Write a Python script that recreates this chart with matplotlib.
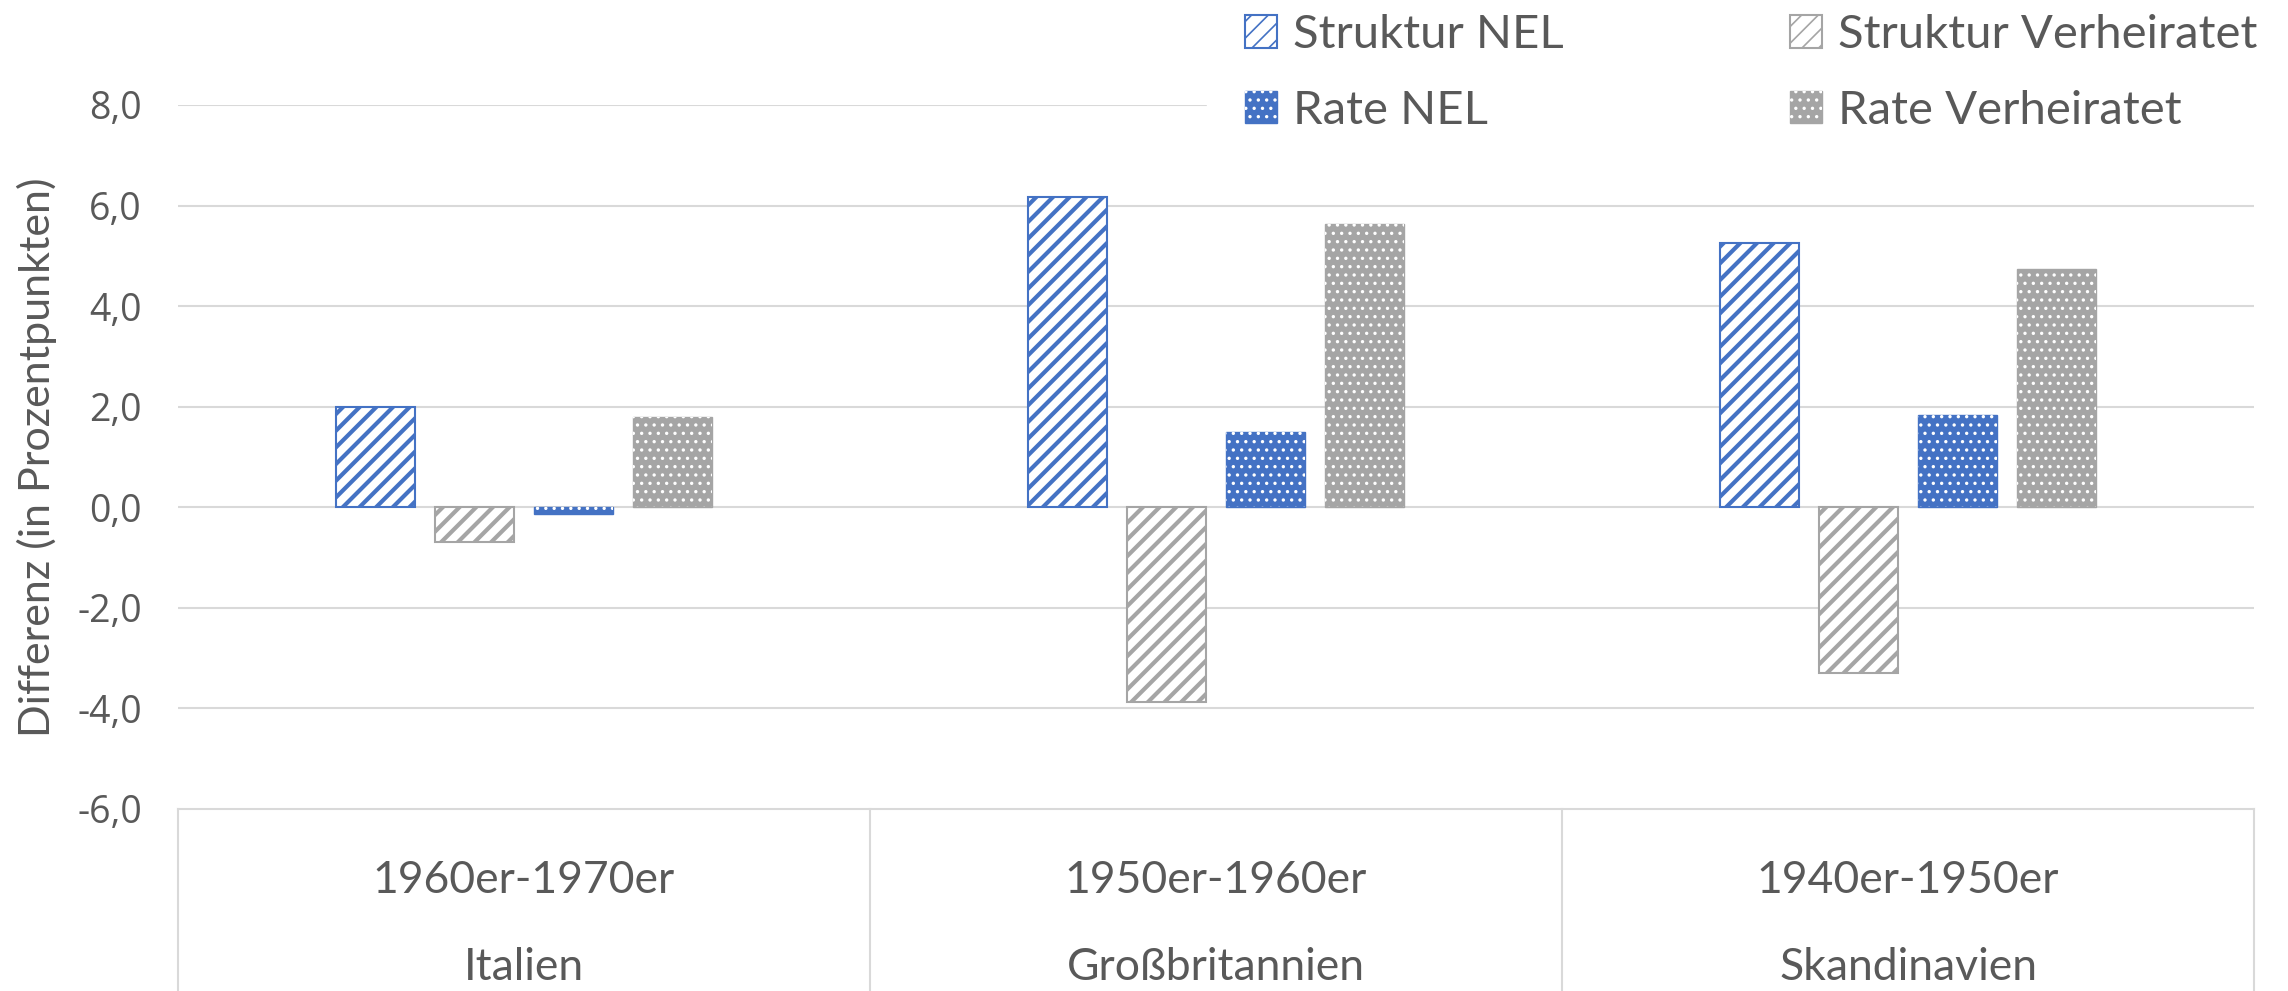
"""
Zerlegung der Differenzen nach Struktur- und Rateneffekt
NEL vs. Verheiratet, drei Länder
"""

import numpy as np
import matplotlib
matplotlib.use("Agg")
import matplotlib.pyplot as plt
from matplotlib.patches import Patch

# ─── Daten ───────────────────────────────────────────────────────────────────
laender   = ["Italien", "Großbritannien", "Skandinavien"]
kohorten  = ["1960er-1970er", "1950er-1960er", "1940er-1950er"]

struktur_nel  = [2.00, 6.17, 5.26]
struktur_verh = [-0.70, -3.88, -3.29]
rate_nel      = [-0.14, 1.50, 1.83]
rate_verh     = [1.79, 5.64, 4.73]

serien_namen = ["Struktur NEL", "Struktur Verheiratet", "Rate NEL", "Rate Verheiratet"]
y_ticks      = [-6, -4, -2, 0, 2, 4, 6, 8]

# ─── Stil ────────────────────────────────────────────────────────────────────
BLAU  = "#4472C4"
GRAU  = "#A5A5A5"
TEXT  = "#595959"
GRID  = "#D9D9D9"
FONT  = "Lato"
TICKFONT = "Open Sans"

BAR_W  = 0.114
PITCH  = 0.143

fig = plt.figure(figsize=(22.88, 9.91), dpi=100)
ax  = fig.add_axes([178/2288, 1 - 809/991, (2254 - 178)/2288, (809 - 105)/991])

x = np.arange(len(laender))


def hatch_lw(patches, lw):
    for p in patches:
        if hasattr(p, "set_hatch_linewidth"):
            p.set_hatch_linewidth(lw)


def struktur_bar(xpos, werte, farbe):
    bars = ax.bar(xpos, werte, BAR_W, facecolor="white", edgecolor=farbe,
                  hatch="//", linewidth=1.5, zorder=3)
    hatch_lw(bars, 3.0)
    return bars


def rate_bar(xpos, werte, farbe):
    bars = ax.bar(xpos, werte, BAR_W, facecolor=farbe, edgecolor=farbe,
                  linewidth=1.0, zorder=3)
    dots = ax.bar(xpos, werte, BAR_W, facecolor="none", edgecolor="white",
                  hatch="..", linewidth=0, zorder=4)
    hatch_lw(dots, 1.2)
    return bars, dots


plt.rcParams["hatch.linewidth"] = 3.0
struktur_bar(x - 1.5 * PITCH, struktur_nel, BLAU)
struktur_bar(x - 0.5 * PITCH, struktur_verh, GRAU)
plt.rcParams["hatch.linewidth"] = 1.2
rate_bar(x + 0.5 * PITCH, rate_nel, BLAU)
rate_bar(x + 1.5 * PITCH, rate_verh, GRAU)

# ─── Achsen ──────────────────────────────────────────────────────────────────
ax.set_xlim(-0.5, len(laender) - 0.5)
ax.set_ylim(-6, 8)
ax.set_yticks(y_ticks)
ax.set_yticklabels([f"{v:.1f}".replace(".", ",") for v in y_ticks],
                   fontsize=27, color=TEXT, family=TICKFONT)
ax.tick_params(axis="y", length=0, pad=26)
ax.set_xticks([])
for s in ["top", "right", "left"]:
    ax.spines[s].set_visible(False)
ax.spines["bottom"].set_color(GRID)
ax.spines["bottom"].set_linewidth(1.5)
for v in y_ticks[1:]:
    ax.axhline(v, color=GRID, linewidth=1.5, zorder=1)

# Kategorie-Trennlinien und zweistufige Beschriftung
trans = ax.get_xaxis_transform()
for xs in np.arange(-0.5, len(laender)):
    ax.plot([xs, xs], [0, -0.3], color=GRID, linewidth=1.5,
            transform=trans, clip_on=False)
for i in range(len(laender)):
    ax.text(x[i], -0.101, kohorten[i], transform=trans, ha="center", va="center",
            fontsize=32, color=TEXT, family=FONT)
    ax.text(x[i], -0.225, laender[i], transform=trans, ha="center", va="center",
            fontsize=32, color=TEXT, family=FONT)

fig.text(37/2288, 1 - 457/991, "Differenz (in Prozentpunkten)", rotation=90,
         ha="center", va="center", fontsize=31, color=TEXT, family=FONT)

# ─── Legende ─────────────────────────────────────────────────────────────────
handles = [
    Patch(facecolor="white", edgecolor=BLAU, hatch="//", linewidth=1.5),
    (Patch(facecolor=BLAU, edgecolor=BLAU), Patch(facecolor="none", edgecolor="white", hatch="..", linewidth=0)),
    Patch(facecolor="white", edgecolor=GRAU, hatch="//", linewidth=1.5),
    (Patch(facecolor=GRAU, edgecolor=GRAU), Patch(facecolor="none", edgecolor="white", hatch="..", linewidth=0)),
]
labels = [serien_namen[0], serien_namen[2], serien_namen[1], serien_namen[3]]
leg = fig.legend(handles, labels, ncol=2, loc="upper left",
                 bbox_to_anchor=(1207/2288, 1.024), frameon=True, fancybox=False,
                 facecolor="white", edgecolor="white", framealpha=1,
                 prop={"family": FONT, "size": 34},
                 handlelength=0.68, handleheight=0.68, handletextpad=0.34,
                 columnspacing=4.8, labelspacing=0.71, borderpad=0.8,
                 borderaxespad=0)
for t in leg.get_texts():
    t.set_color(TEXT)

fig.savefig("out.png", dpi=100, facecolor="white")
